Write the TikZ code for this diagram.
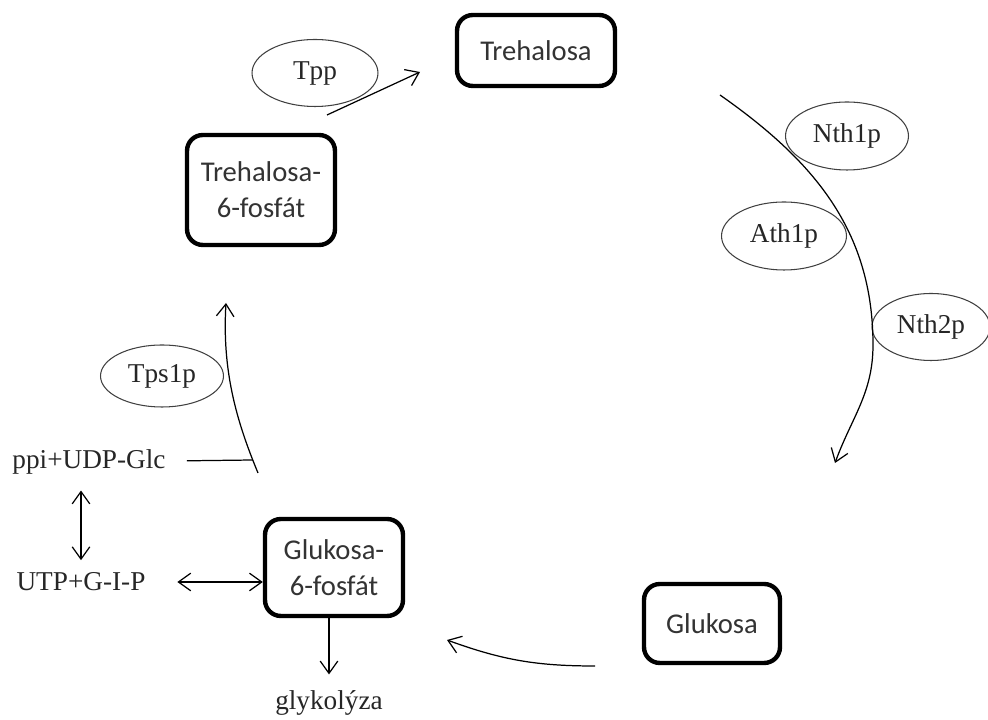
\documentclass[tikz,border=0pt]{standalone}
\usepackage{fontspec}
\setmainfont{Liberation Serif}
\newfontfamily\calfont{Carlito}
\usepackage{xcolor}
\usepackage{tikz}
\usetikzlibrary{arrows.meta,positioning,shapes.geometric,calc}

\tikzset{
  metab/.style={draw, line width=2.5pt, rounded corners=9pt, align=center,
    text=black!80, inner sep=0pt, font=\calfont\fontsize{16.3}{20.5}\selectfont},
  enzyme/.style={draw=black!75, line width=0.6pt, ellipse, inner sep=0pt,
    text=black!85, font=\fontsize{15.5}{18}\selectfont},
  chem/.style={inner sep=5pt, text=black!85, font=\fontsize{15.5}{18}\selectfont},
  conn/.style={line width=0.7pt, -{Straight Barb[length=7pt,width=10pt]}},
  dbl/.style={line width=0.7pt, {Straight Barb[length=7pt,width=10pt]}-{Straight Barb[length=7pt,width=10pt]}},
}

\begin{document}
\begin{tikzpicture}[x=0.02cm, y=0.02cm]
  \useasboundingbox (0,0) rectangle (988,720);

  % Metabolites
  \node[metab, minimum width=3.16cm, minimum height=1.42cm] (treh) at (536,669.5) {Trehalosa};
  \node[metab, minimum width=2.96cm, minimum height=2.2cm] (t6p) at (261,530) {Trehalosa-\\6-fosfát};
  \node[metab, minimum width=2.76cm, minimum height=1.94cm] (g6p) at (334,152.5) {Glukosa-\\6-fosfát};
  \node[metab, minimum width=2.72cm, minimum height=1.58cm] (gluc) at (712,96.5) {Glukosa};

  % Enzymes
  \node[enzyme, minimum width=2.52cm, minimum height=1.34cm] (tpp) at (315,647) {Tpp};
  \node[enzyme, minimum width=2.46cm, minimum height=1.36cm] (nth1) at (847,584) {Nth1p};
  \node[enzyme, minimum width=2.5cm, minimum height=1.36cm] (ath1) at (784,484) {Ath1p};
  \node[enzyme, minimum width=2.36cm, minimum height=1.34cm] (nth2) at (931,393) {Nth2p};
  \node[enzyme, minimum width=2.46cm, minimum height=1.24cm] (tps1) at (162,344) {Tps1p};

  % Side compounds
  \node[chem] (ppi) at (89,258) {ppi+UDP-Glc};
  \node[chem] (utp) at (81,138) {UTP+G-I-P};
  \node[chem] (glyk) at (329,17) {glykolýza};

  % Free ends of the curves
  \coordinate (tppA) at (327,605);
  \coordinate (tppB) at (420,648);
  \coordinate (hydA) at (720,625);
  \coordinate (hydM) at (873,375);
  \coordinate (hydB) at (835,257);
  \coordinate (synA) at (258,247);
  \coordinate (synB) at (226,417);
  \coordinate (udpJ) at (253,260);
  \coordinate (gluA) at (595,54);
  \coordinate (gluB) at (447,80);

  % Trehalose synthesis
  \draw[conn] (tppA) -- (tppB);
  \draw[conn] (synA) .. controls (236,300) and (222,350) .. (synB);
  \draw[line width=0.7pt, shorten <=7pt] (ppi) -- (udpJ);

  % Hydrolysis
  \draw[conn] (hydA) to[out=-35,in=90] (hydM) to[out=-90,in=70] (hydB);
  \draw[conn] (gluA) to[out=180,in=-20] (gluB);

  % Exchange reactions
  \draw[dbl, shorten <=2pt, shorten >=4pt] (utp.north) -- (utp.north |- ppi.south);
  \draw[dbl, shorten <=13pt] (utp.east) -- (utp.east -| g6p.west);
  \draw[conn, shorten >=4pt] (g6p.south -| glyk) -- (glyk.north);

\end{tikzpicture}
\end{document}
